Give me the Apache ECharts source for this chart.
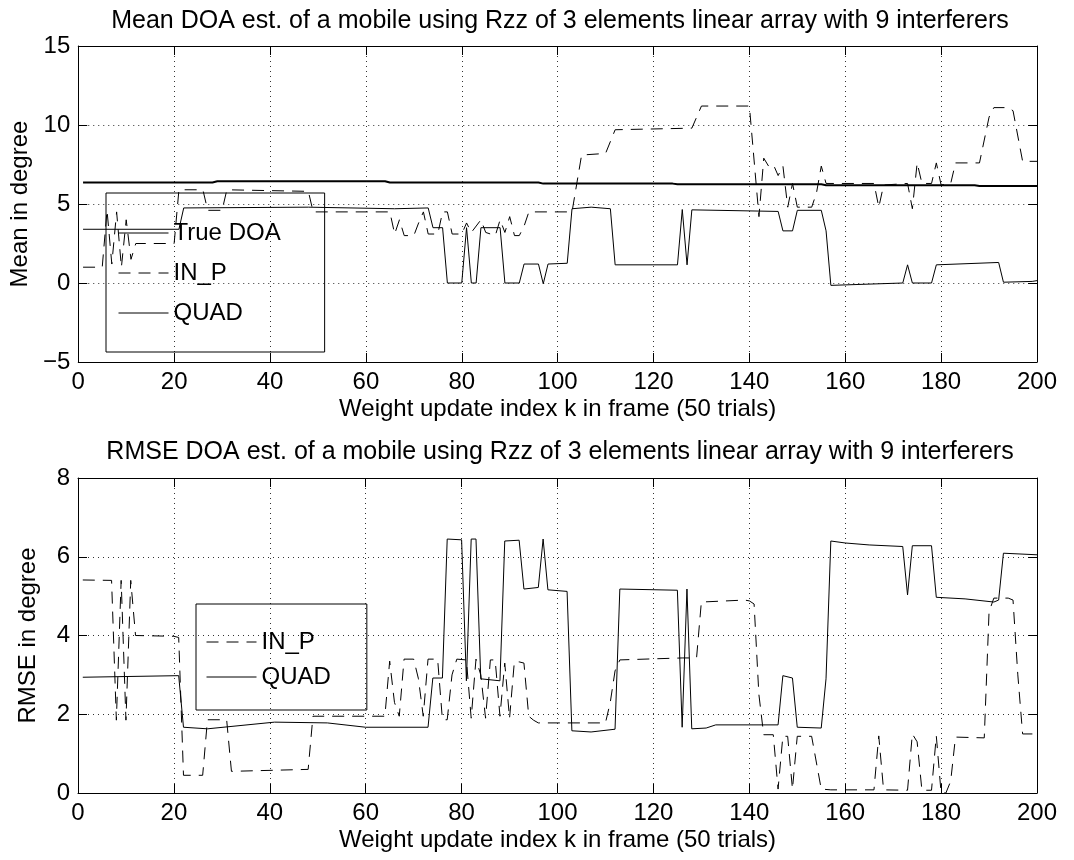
<!DOCTYPE html>
<html>
<head>
<meta charset="utf-8">
<script src="https://cdn.jsdelivr.net/npm/echarts@6/dist/echarts.min.js"></script>
<style>
html,body{margin:0;padding:0;background:#fff;}
#main{width:1074px;height:860px;}
</style>
</head>
<body>
<div id="main"></div>
<script>
// upper plot: mean DOA, [k, degree] at the corners of each curve
var meanTrue = [[1,6.36],[28,6.36],[29,6.44],[64,6.44],[65,6.36],[96,6.36],[97,6.29],[124,6.29],[125,6.25],[155,6.25],[156,6.19],[187,6.19],[188,6.14],[200,6.14]];
var meanInp = [[1,1.0],[5,1.0],[6,4.6],[7,1.2],[8,4.5],[9,1.0],[10,4.0],[11,1.5],[12,2.5],[20,2.5],
	[21,5.9],[26,5.9],[27,4.6],[30,4.6],[31,5.9],[48,5.8],[49,4.5],[65,4.5],[66,3.1],[67,4.0],
	[68,3.0],[70,3.0],[71,3.8],[72,4.5],[73,3.1],[75,3.1],[76,4.5],[77,4.5],[78,3.1],[80,3.1],
	[81,3.8],[82,3.2],[84,4.0],[85,3.2],[87,3.0],[88,4.0],[89,3.2],[90,4.2],[91,3.0],[92,3.0],
	[93,3.6],[94,4.5],[103,4.5],[104,6.3],[105,8.1],[110,8.2],[112,9.7],[128,9.8],[130,11.2],[140,11.2],
	[142,4.2],[143,7.9],[144,7.4],[145,7.5],[146,6.8],[147,7.4],[148,4.8],[149,6.3],[150,4.8],[153,4.8],
	[154,5.7],[155,7.4],[156,6.3],[166,6.3],[167,4.8],[168,6.2],[173,6.3],[174,4.7],[175,7.6],[176,6.3],
	[178,6.3],[179,7.6],[180,6.2],[182,6.3],[183,7.6],[188,7.6],[190,10.5],[191,11.1],[194,11.1],[195,10.9],
	[197,7.7],[200,7.7]];
var meanQuad = [[1,3.4],[21,3.4],[22,4.75],[48,4.8],[66,4.7],[73,4.75],[74,3.5],[76,3.5],[77,0.0],[80,0.0],
	[81,3.5],[82,0.0],[83,0.0],[84,3.5],[88,3.5],[89,0.0],[92,0.0],[93,1.2],[96,1.2],[97,-0.05],
	[98,1.2],[102,1.25],[103,4.7],[107,4.8],[111,4.7],[112,1.15],[125,1.15],[126,4.65],[127,1.15],[128,4.63],
	[146,4.53],[147,3.3],[149,3.3],[150,4.6],[155,4.6],[156,3.3],[157,-0.15],[172,0.0],[173,1.15],[174,0.0],
	[178,0.0],[179,1.15],[192,1.3],[193,0.05],[199,0.1],[200,0.15]];

// lower plot: RMSE
var rmseInp = [[1,5.41],[7,5.4],[8,1.85],[9,5.4],[10,1.85],[11,5.4],[12,4.0],[20,3.98],[21,3.95],[22,0.45],
	[26,0.45],[27,1.86],[31,1.86],[32,0.55],[48,0.6],[49,1.95],[64,1.95],[65,3.35],[66,2.3],[67,1.95],
	[68,3.4],[70,3.4],[71,2.9],[72,1.95],[73,3.4],[75,3.4],[76,1.86],[77,1.86],[78,3.0],[79,3.4],
	[81,3.38],[82,1.9],[83,3.4],[84,3.0],[85,1.9],[86,3.38],[87,3.38],[88,1.95],[89,3.3],[90,1.9],
	[91,3.33],[92,3.33],[93,3.3],[94,1.95],[95,1.85],[96,1.78],[110,1.78],[111,2.3],[112,3.1],[113,3.38],
	[126,3.43],[129,3.43],[130,4.85],[139,4.9],[140,4.88],[141,4.8],[142,2.5],[143,1.48],[145,1.48],[146,0.1],
	[147,1.44],[148,1.44],[149,0.1],[150,1.44],[153,1.44],[155,0.1],[157,0.08],[166,0.08],[167,1.45],[168,0.08],
	[173,0.07],[174,1.5],[175,1.3],[176,0.07],[178,0.07],[179,1.45],[180,0.0],[181,0.0],[182,0.3],[183,1.42],
	[189,1.4],[190,4.6],[191,4.95],[194,4.95],[195,4.9],[196,3.0],[197,1.5],[200,1.5]];
var rmseQuad = [[1,2.94],[21,2.98],[22,1.67],[27,1.63],[41,1.8],[52,1.78],[60,1.67],[73,1.67],[74,2.92],[76,2.92],
	[77,6.45],[80,6.43],[81,2.85],[82,6.45],[83,6.45],[84,2.9],[88,2.85],[89,6.4],[92,6.42],[93,5.18],
	[96,5.22],[97,6.45],[98,5.16],[102,5.12],[103,1.58],[107,1.55],[112,1.62],[113,5.18],[125,5.15],[126,1.67],
	[127,5.18],[128,1.63],[131,1.65],[133,1.73],[146,1.73],[147,2.98],[149,2.92],[150,1.67],[155,1.65],[156,2.9],
	[157,6.4],[160,6.35],[165,6.3],[172,6.26],[173,5.03],[174,6.28],[178,6.28],[179,4.97],[185,4.93],[191,4.85],
	[192,4.9],[193,6.09],[200,6.05]];

var titles = ['Mean DOA est. of a mobile using Rzz of 3 elements linear array with 9 interferers',
	'RMSE DOA est. of a mobile using Rzz of 3 elements linear array with 9 interferers'];
var yNames = ['Mean in degree', 'RMSE in degree'];
var xName = 'Weight update index k in frame (50 trials)';

var FONT = '"Liberation Sans", Arial, Helvetica, sans-serif';
var txt = {color:'#000', fontSize:24, fontFamily:FONT};
var dash = [12, 8];

function bottomX(g){
	return {
		gridIndex:g, type:'value', position:'bottom', min:0, max:200, interval:20,
		axisLine:{onZero:false, lineStyle:{color:'#000', width:1}},
		axisTick:{inside:true, length:9, lineStyle:{color:'#000'}},
		axisLabel:{color:'#000', fontSize:24, fontFamily:FONT, margin:8},
		splitLine:{show:true, lineStyle:{color:'#333', width:1, type:[1,4]}},
		name:xName, nameLocation:'middle', nameGap:35, nameTextStyle:txt
	};
}
function topX(g){
	return {
		gridIndex:g, type:'value', position:'top', min:0, max:200, interval:20,
		axisLine:{onZero:false, lineStyle:{color:'#000', width:1}},
		axisTick:{inside:true, length:9, lineStyle:{color:'#000'}},
		axisLabel:{show:false}, splitLine:{show:false}
	};
}
function leftY(g, mn, mx, iv, name){
	return {
		gridIndex:g, type:'value', position:'left', min:mn, max:mx, interval:iv,
		axisLine:{show:true, onZero:false, lineStyle:{color:'#000', width:1}},
		axisTick:{show:true, inside:true, length:9, lineStyle:{color:'#000'}},
		axisLabel:{color:'#000', fontSize:24, fontFamily:FONT, margin:8,
			formatter:function(v){ return String(v).replace('-', '\u2212'); }},
		splitLine:{show:true, lineStyle:{color:'#333', width:1, type:[1,4]}},
		name:name, nameLocation:'middle', nameGap:38, nameTextStyle:txt
	};
}
function rightY(g, mn, mx, iv){
	return {
		gridIndex:g, type:'value', position:'right', min:mn, max:mx, interval:iv,
		axisLine:{show:true, onZero:false, lineStyle:{color:'#000', width:1}},
		axisTick:{show:true, inside:true, length:9, lineStyle:{color:'#000'}},
		axisLabel:{show:false}, splitLine:{show:false}
	};
}
function line(name, data, xi, yi, w, type){
	return {
		type:'line', name:name, data:data, xAxisIndex:xi, yAxisIndex:yi,
		symbol:'none', silent:true, animation:false,
		itemStyle:{color:'#000'},
		lineStyle:{color:'#000', width:w, type:type}
	};
}
// legend box: no fill, thin black border, line samples only
function legendBox(names, left, top, pad, gap){
	return {
		data:names, orient:'vertical', left:left, top:top,
		padding:pad, itemGap:gap, itemWidth:50, itemHeight:14,
		borderColor:'#000', borderWidth:1, textStyle:txt, selectedMode:false,
		itemStyle:{opacity:0}, lineStyle:{width:1}
	};
}

var chart = echarts.init(document.getElementById('main'), null, {renderer:'canvas'});
var option = {
	backgroundColor:'#fff',
	animation:false,
	grid:[
		{left:78, top:46, width:959, height:316},
		{left:78, top:478, width:959, height:315}
	],
	xAxis:[bottomX(0), topX(0), bottomX(1), topX(1)],
	yAxis:[leftY(0, -5, 15, 5, yNames[0]), rightY(0, -5, 15, 5),
		leftY(1, 0, 8, 2, yNames[1]), rightY(1, 0, 8, 2)],
	legend:[
		legendBox(['True DOA','IN_P','QUAD'], 106, 193, [28,44,27,12], 16),
		legendBox(['IN_P','QUAD'], 196, 604, [26,36,21,10], 11)
	],
	graphic:[
		{type:'text', x:560, y:21, style:{text:titles[0], font:'25px ' + FONT, fill:'#000',
			align:'center', verticalAlign:'middle', textAlign:'center', textVerticalAlign:'middle'}},
		{type:'text', x:560, y:452, style:{text:titles[1], font:'25px ' + FONT, fill:'#000',
			align:'center', verticalAlign:'middle', textAlign:'center', textVerticalAlign:'middle'}}
	],
	series:[
		line('True DOA', meanTrue, 0, 0, 2, 'solid'),
		line('IN_P', meanInp, 0, 0, 1, dash),
		line('QUAD', meanQuad, 0, 0, 1, 'solid'),
		line('IN_P', rmseInp, 2, 2, 1, dash),
		line('QUAD', rmseQuad, 2, 2, 1, 'solid')
	]
};
chart.setOption(option);
</script>
</body>
</html>
